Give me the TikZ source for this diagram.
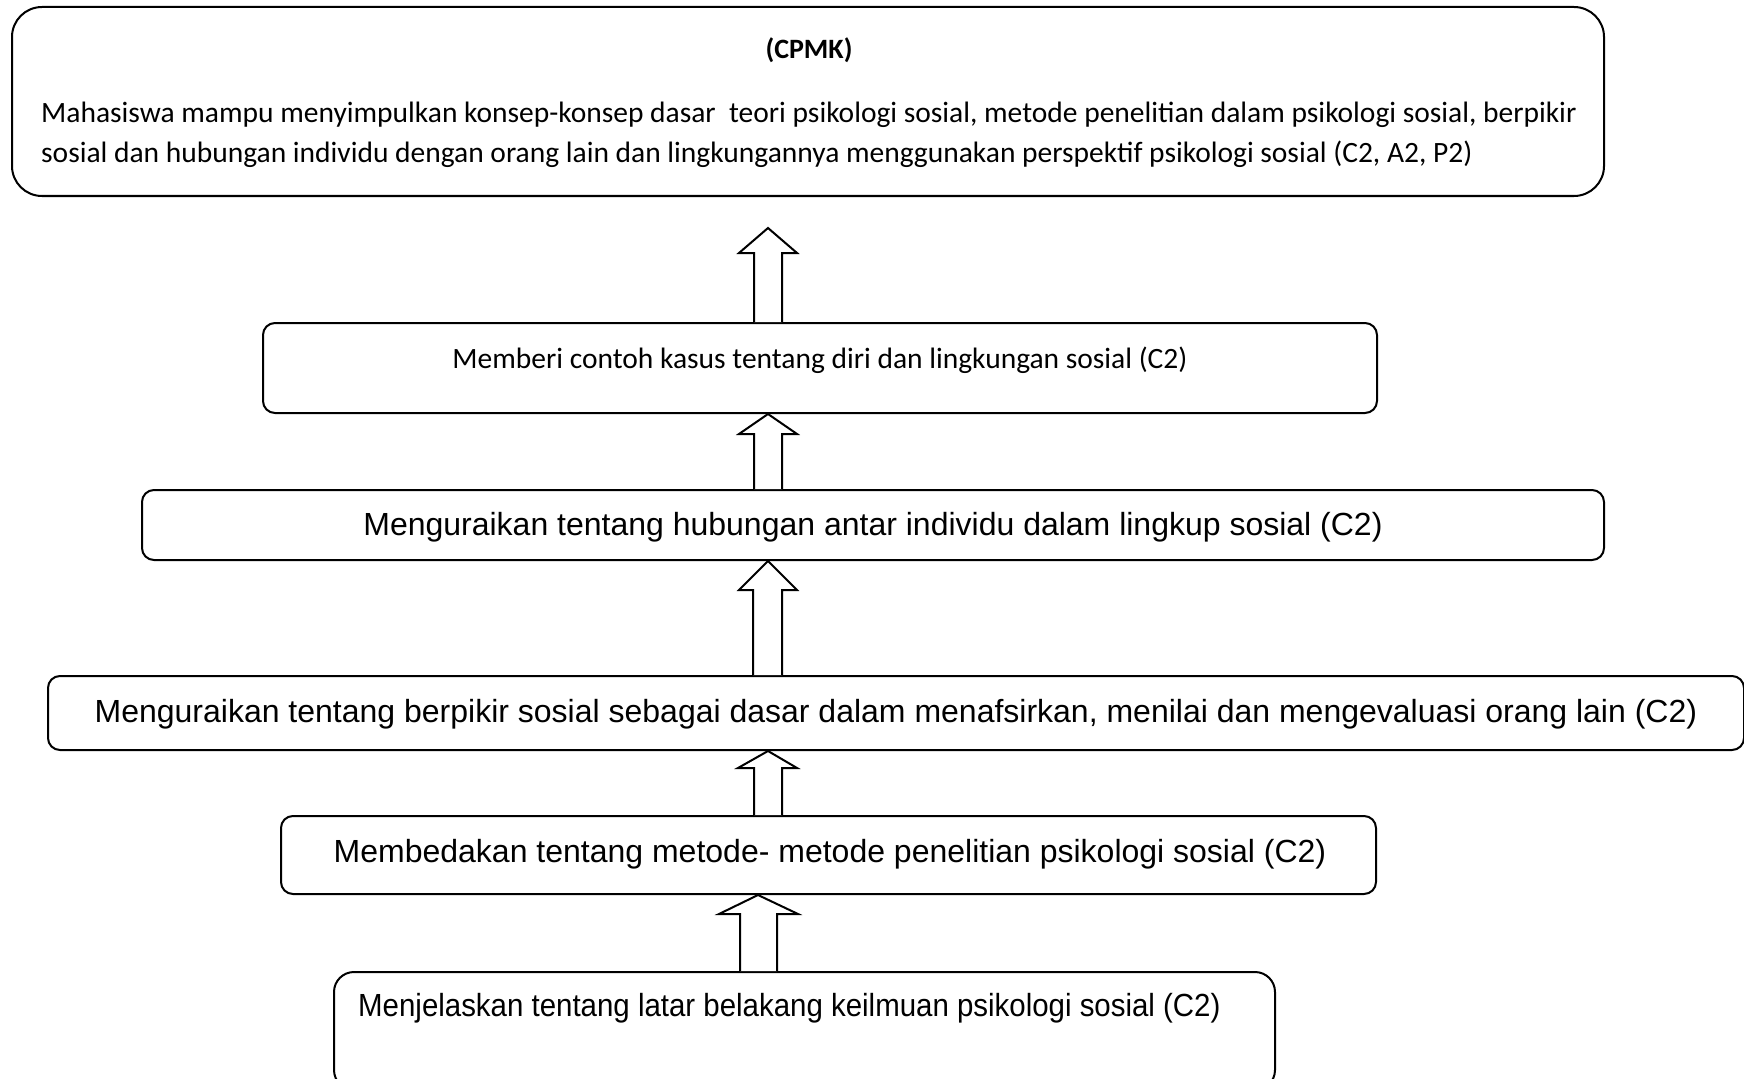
\documentclass[tikz,border=0pt]{standalone}
\usepackage{fontspec}
\usepackage{graphicx}
\setmainfont{Liberation Sans}
\newfontfamily\calfont{Carlito}
\usetikzlibrary{calc}
\tikzset{
  boxs/.style={draw=black, line width=2pt, rounded corners=#1, inner sep=0pt, fill=white},
  boxs/.default=12pt,
  blockarr/.style={draw=black, line width=2pt, fill=white, line join=miter},
  cal/.style={font=\calfont\fontsize{29.5}{40}\selectfont, inner sep=0pt},
  ari/.style={font=\fontsize{32}{38}\selectfont, inner sep=0pt}
}
\newcommand\blockarrow[8]{%
  \draw[blockarr] let \p1=(#1), \p2=(#2) in
  (#3pt,\y1) -- (#3pt,\y2-#8pt) -- (#5pt,\y2-#8pt) -- (#7pt,\y2) --
  (#6pt,\y2-#8pt) -- (#4pt,\y2-#8pt) -- (#4pt,\y1);}
\begin{document}
\begin{tikzpicture}[x=1pt,y=-1pt]
\useasboundingbox[fill=white] (0,0) rectangle (1744,1078);
% boxes
\node[boxs=30pt, minimum width=1592pt, minimum height=189pt] (b1) at (808,101.5) {};
\node[boxs, minimum width=1114pt, minimum height=90pt] (b2) at (820,368) {};
\node[boxs, minimum width=1462pt, minimum height=70pt] (b3) at (873,525) {};
\node[boxs, minimum width=1696pt, minimum height=74pt] (b4) at (896,713) {};
\node[boxs, minimum width=1095pt, minimum height=78pt] (b5) at (828.5,855) {};
\node[boxs=20pt, minimum width=941pt, minimum height=118pt] (b6) at (804.5,1031) {};
% texts
\node[cal, font=\calfont\bfseries\fontsize{28}{32}\selectfont] (t1a) at (809,50) {(CPMK)};
\node[cal, anchor=west, align=left] (t1b) at (41,135) {Mahasiswa mampu menyimpulkan konsep-konsep dasar\ \ teori psikologi sosial, metode penelitian dalam psikologi sosial, berpikir\\sosial dan hubungan individu dengan orang lain dan lingkungannya menggunakan perspektif psikologi sosial (C2, A2, P2)};
\node[cal] (t2) at (820,360) {Memberi contoh kasus tentang diri dan lingkungan sosial (C2)};
\node[ari] (t3) at (873,527) {Menguraikan tentang hubungan antar individu dalam lingkup sosial (C2)};
\node[ari] (t4) at (896,714) {Menguraikan tentang berpikir sosial sebagai dasar dalam menafsirkan, menilai dan mengevaluasi orang lain (C2)};
\node[ari] (t5) at (830,854) {Membedakan tentang metode- metode penelitian psikologi sosial (C2)};
\node[ari, anchor=west] (t6) at (358,1008) {\scalebox{0.92}[1]{Menjelaskan tentang latar belakang keilmuan psikologi sosial (C2)}};
% arrows
\coordinate (tip1) at (768,228);
\blockarrow{b2.north -| tip1}{tip1}{754}{782}{739}{797}{768}{25}
\blockarrow{b3.north}{b2.south}{754}{782}{739}{797}{768}{20}
\blockarrow{b4.north}{b3.south}{753}{782}{739}{797}{768}{29}
\blockarrow{b5.north}{b4.south}{754}{782}{738}{797}{768}{17}
\blockarrow{b6.north}{b5.south}{740}{777}{719}{798}{758}{19}
\end{tikzpicture}
\end{document}
